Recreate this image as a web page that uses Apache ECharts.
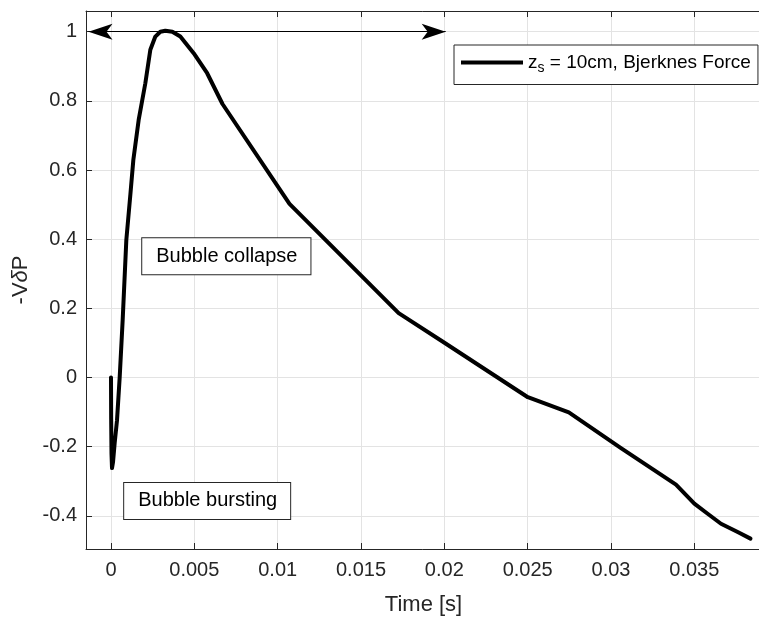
<!DOCTYPE html>
<html><head><meta charset="utf-8">
<script src="https://cdn.jsdelivr.net/npm/echarts@6/dist/echarts.min.js"></script>
<style>html,body{margin:0;padding:0;background:#fff}#c{width:759px;height:617px}</style>
</head><body><div id="c"></div><script>
// ---- data ----
const timeS = [0, 0.00001, 0.00003, 0.00006, 0.00012, 0.00022, 0.00036, 0.00052, 0.0007, 0.00092, 0.00116, 0.00134, 0.00166, 0.00206, 0.00236, 0.00266, 0.00296, 0.00326, 0.00368, 0.00416, 0.00496, 0.00577, 0.00669, 0.01071, 0.01726, 0.01996, 0.02501, 0.02747, 0.0306, 0.0339, 0.035, 0.0358, 0.0366, 0.0376, 0.03837];
const force = [0, -0.12, -0.22, -0.262, -0.245, -0.19, -0.124, 0, 0.166, 0.398, 0.528, 0.629, 0.745, 0.851, 0.948, 0.986, 1.0, 1.003, 1.0, 0.986, 0.938, 0.88, 0.791, 0.502, 0.186, 0.102, -0.057, -0.101, -0.204, -0.31, -0.365, -0.394, -0.423, -0.447, -0.466];
const xTicks = [0, 0.005, 0.01, 0.015, 0.02, 0.025, 0.03, 0.035];
const yTicks = [-0.4, -0.2, 0, 0.2, 0.4, 0.6, 0.8, 1];
const xRange = [-0.0015, 0.039];
const yRange = [-0.496, 1.06];
const seriesName = 'z_s = 10cm, Bjerknes Force';
const annotationTexts = ['Bubble collapse', 'Bubble bursting'];
const annotationT = [0.00692, 0.00577];
const annotationV = [0.351, -0.357];
const arrowT = [-0.00135, 0.02008];
const arrowV = 1;

// ---- chart ----
const FONT = '"Liberation Sans", Arial, sans-serif';
const AX = '#262626';
const GRID = '#e3e3e3';
const chart = echarts.init(document.getElementById('c'), null, {renderer: 'canvas'});
const fmt = v => String(+(+v).toFixed(4));
const xAxisBase = {
  type: 'value', min: xRange[0], max: xRange[1],
  axisLine: {show: true, onZero: false, lineStyle: {color: AX, width: 1}},
  axisTick: {show: true, inside: true, length: 6, customValues: xTicks, lineStyle: {color: AX}},
};
const option = {
  animation: false,
  backgroundColor: '#fff',
  grid: {left: 86, top: 11, right: -2, bottom: 68, containLabel: false, outerBoundsMode: 'none'},
  xAxis: [
    Object.assign({}, xAxisBase, {
      position: 'bottom',
      name: 'Time [s]', nameLocation: 'middle', nameGap: 45,
      nameTextStyle: {fontFamily: FONT, fontSize: 22, color: AX},
      axisLabel: {show: true, customValues: xTicks, formatter: fmt, margin: 11, fontFamily: FONT, fontSize: 20, color: AX},
      splitLine: {show: true, lineStyle: {color: GRID, width: 1}}
    }),
    Object.assign({}, xAxisBase, {
      position: 'top',
      axisLabel: {show: false},
      splitLine: {show: false}
    })
  ],
  yAxis: {
    type: 'value', min: yRange[0], max: yRange[1],
    name: '-V{d|δ}P', nameLocation: 'middle', nameGap: 47,
    nameTextStyle: {fontFamily: FONT, fontSize: 22, color: AX, rich: {d: {fontFamily: FONT, fontSize: 22, fontStyle: 'italic', color: AX}}},
    axisLine: {show: true, onZero: false, lineStyle: {color: AX, width: 1}},
    axisTick: {show: true, inside: true, length: 6, customValues: yTicks, lineStyle: {color: AX}},
    axisLabel: {show: true, customValues: yTicks, formatter: fmt, margin: 9, fontFamily: FONT, fontSize: 20, color: AX},
    splitLine: {show: true, lineStyle: {color: GRID, width: 1}}
  },
  legend: {
    show: true, left: 454, top: 45,
    data: [{name: seriesName, icon: 'rect'}],
    itemWidth: 62, itemHeight: 4, itemGap: 0,
    padding: [8, 7, 9, 7],
    borderColor: AX, borderWidth: 1, backgroundColor: '#fff',
    selectedMode: false,
    formatter: () => '{a|z}{s|s}{a| = 10cm, Bjerknes Force}',
    textStyle: {fontFamily: FONT, fontSize: 19, color: '#000',
      rich: {a: {fontFamily: FONT, fontSize: 19, color: '#000'},
             s: {fontFamily: FONT, fontSize: 14, color: '#000', padding: [12, 0, 0, 0]}}}
  },
  series: [{
    name: seriesName, type: 'line', xAxisIndex: 0,
    data: timeS.map((t, i) => [t, force[i]]),
    showSymbol: false, symbol: 'none', smooth: false,
    color: '#000',
    lineStyle: {color: '#000', width: 4, join: 'round', cap: 'round'},
    z: 3,
    markLine: {
      silent: true, animation: false,
      symbol: ['arrow', 'arrow'],
      lineStyle: {color: '#000', width: 1.2, type: 'solid'},
      label: {show: false},
      data: [[{coord: [arrowT[0], arrowV], symbolSize: [12, 24]}, {coord: [arrowT[1], arrowV], symbolSize: [12, 24]}]]
    },
    markPoint: {
      silent: true, animation: false,
      symbol: 'rect', symbolSize: 0,
      label: {show: true, position: 'inside', fontFamily: FONT, fontSize: 20, color: '#000',
        backgroundColor: '#fff', borderColor: AX, borderWidth: 1, padding: [8, 13, 8, 14]},
      data: annotationTexts.map((txt, i) => ({coord: [annotationT[i], annotationV[i]], value: txt, label: {formatter: txt}}))
    }
  }]
};
chart.setOption(option);
</script></body></html>
